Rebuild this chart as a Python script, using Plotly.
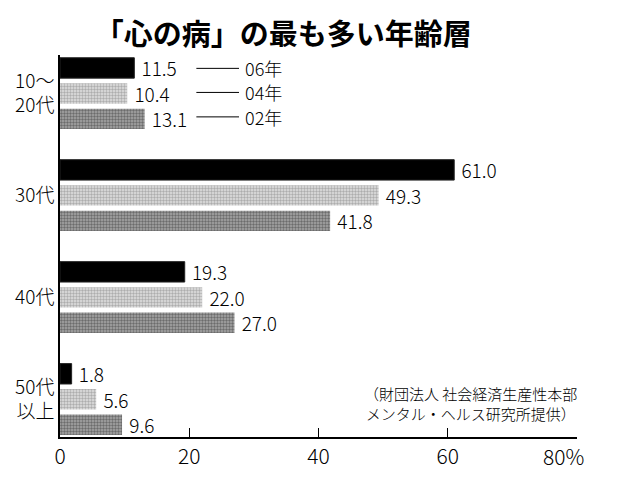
import plotly.graph_objects as go

FONT = "Noto Sans CJK JP"

# 年齢層 (上から順に)
age_groups = ["10〜<br>20代", "30代", "40代", "50代<br>以上"]
years = ["06年", "04年", "02年"]

# 割合 [%]
share_06 = [11.5, 61.0, 19.3, 1.8]
share_04 = [10.4, 49.3, 22.0, 5.6]
share_02 = [13.1, 41.8, 27.0, 9.6]

x_ticks = [0, 20, 40, 60, 80]
x_ticktext = ["0", "20", "40", "60", ""]

series = [share_06, share_04, share_02]

bar_style = [
    dict(color="black", line=dict(color="#222", width=1)),
    dict(color="white", line=dict(width=0),
         pattern=dict(shape=".", fgcolor="#7a7a7a", bgcolor="#e0e0e0",
                      size=3, solidity=0.5)),
    dict(color="white", line=dict(width=0),
         pattern=dict(shape=".", fgcolor="#303030", bgcolor="#a8a8a8",
                      size=3, solidity=0.5)),
]

fig = go.Figure()

for name, vals, style in zip(years, series, bar_style):
    fig.add_trace(go.Bar(
        y=age_groups, x=vals,
        orientation="h",
        name=name,
        marker=style,
        text=vals,
        texttemplate="\u00a0%{x:.1f}",
        textposition="outside",
        constraintext="none",
        cliponaxis=False,
        textfont=dict(family=FONT, size=19, color="black", weight=300),
        showlegend=False,
    ))

# 凡例 (引き出し線 + 年)
legend_y = [0.965, 0.902, 0.838]
for name, yy in zip(years, legend_y):
    fig.add_shape(type="line", xref="x", yref="paper",
                  x0=21.1, x1=27.7, y0=yy, y1=yy,
                  line=dict(color="black", width=1))
    fig.add_annotation(text=name, xref="x", yref="paper",
                       x=28.5, y=yy, xanchor="left", yanchor="middle",
                       showarrow=False, height=20, borderpad=0,
                       font=dict(family=FONT, size=18, color="black",
                                 weight=300))

# 80% ラベル
fig.add_annotation(text="80%", xref="x", yref="paper",
                   x=80, y=0, xanchor="right", yanchor="middle",
                   xshift=9, yshift=-19, showarrow=False,
                   font=dict(family=FONT, size=21, color="black", weight=300))

# 出典
fig.add_annotation(
    text="（財団法人 社会経済生産性本部<br>メンタル・ヘルス研究所提供）",
    xref="paper", yref="paper", x=1.004, y=0.089,
    xanchor="right", yanchor="middle", align="center",
    showarrow=False,
    font=dict(family=FONT, size=15, color="black", weight=300),
)

# ページ余白 (8px) を差し引いた余白
fig.update_layout(
    width=620, height=483,
    margin=dict(l=52, r=51, t=47, b=54),
    paper_bgcolor="white", plot_bgcolor="white",
    barmode="group", bargap=0.25, bargroupgap=0.2,
    title=dict(
        text="<b>「心の病」の最も多い年齢層</b>",
        x=0.444, xanchor="center", y=0.944, yanchor="middle",
        font=dict(family=FONT, size=29, color="black"),
    ),
    xaxis=dict(
        range=[0, 80], tickvals=x_ticks, ticktext=x_ticktext,
        automargin=False,
        showline=True, linecolor="black", linewidth=1.5,
        ticks="inside", ticklen=9, tickwidth=1.2, tickcolor="black",
        showgrid=False, zeroline=False,
        tickfont=dict(family=FONT, size=21, color="black", weight=300),
    ),
    yaxis=dict(
        type="category", range=[3.37, -0.377],
        automargin=False,
        showline=True, linecolor="black", linewidth=1.5,
        ticks="", showgrid=False, zeroline=False,
        tickfont=dict(family=FONT, size=19, color="black", weight=300),
    ),
)

fig.write_html("out.html")
